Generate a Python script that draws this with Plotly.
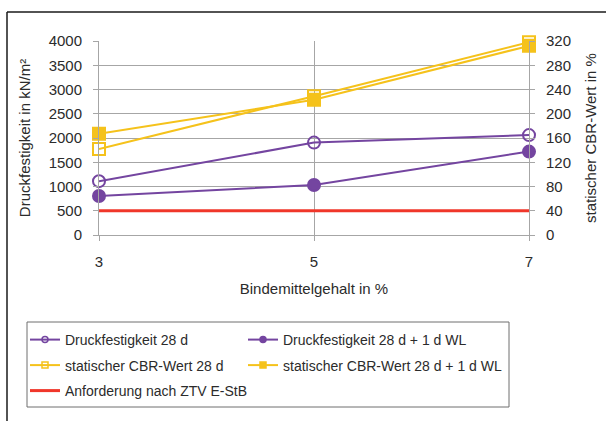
import plotly.graph_objects as go

# Bindemittelgehalt in %
binder = [3, 5, 7]

# Druckfestigkeit in kN/m² (left axis)
druck_28d = [1110, 1905, 2060]
druck_28d_wl = [805, 1030, 1720]

# statischer CBR-Wert in % (right axis)
cbr_28d = [142, 229, 318]
cbr_28d_wl = [167, 223, 312]

# Anforderung nach ZTV E-StB (kN/m²)
anforderung = [500, 500, 500]

left_ticks = list(range(0, 4001, 500))
right_ticks = list(range(0, 321, 40))

PURPLE = "#7445A0"
GOLD = "#F5C21B"
RED = "#F0362A"
GRID = "#A6A6A6"
TEXT = "#2B2B2B"
FONT = "Liberation Sans, Arial, sans-serif"

W, H = 606, 421
L, R, T, B = 99, 77, 41, 186
pw, ph = W - L - R, H - T - B


def px(x):
    return (x - L) / pw


def py(y):
    return (H - B - y) / ph


fig = go.Figure()

# (values, y-axis, colour, symbol, name, legend column)
series = [
    (druck_28d, "y", PURPLE, "circle-open", "Druckfestigkeit 28 d", "legend"),
    (druck_28d_wl, "y", PURPLE, "circle", "Druckfestigkeit 28 d + 1 d WL", "legend2"),
    (cbr_28d, "y2", GOLD, "square-open", "statischer CBR-Wert 28 d", "legend"),
    (cbr_28d_wl, "y2", GOLD, "square", "statischer CBR-Wert 28 d + 1 d WL", "legend2"),
]

fig.add_trace(go.Scatter(
    x=binder, y=anforderung, yaxis="y", mode="lines",
    line=dict(color=RED, width=3), showlegend=False, cliponaxis=False,
))

for vals, ax, col, sym, name, lg in series:
    fig.add_trace(go.Scatter(
        x=binder, y=vals, yaxis=ax, mode="lines+markers",
        line=dict(color=col, width=2),
        marker=dict(symbol=sym, size=12, color=col, line=dict(color=col, width=2)),
        showlegend=False, cliponaxis=False,
    ))

# legend entries with small symbols, two columns
for vals, ax, col, sym, name, lg in series:
    fig.add_trace(go.Scatter(
        x=[None], y=[None], yaxis=ax, mode="lines+markers", name=name,
        legend=lg, legendgroup=name,
        line=dict(color=col, width=2),
        marker=dict(symbol=sym, size=6, color=col, line=dict(color=col, width=1.5)),
    ))
fig.add_trace(go.Scatter(
    x=[None], y=[None], mode="lines", name="Anforderung nach ZTV E-StB",
    legend="legend", legendgroup="anforderung",
    line=dict(color=RED, width=3),
))

axis_common = dict(
    showline=True, linecolor=GRID, linewidth=1,
    ticks="outside", ticklen=5, tickcolor=GRID,
    tickfont=dict(size=15, color=TEXT, family=FONT),
    automargin=False,
)

legend_common = dict(
    orientation="v", xanchor="left", yanchor="top", y=py(324),
    borderwidth=0, bgcolor="rgba(0,0,0,0)",
    font=dict(size=14, color=TEXT, family=FONT),
    tracegroupgap=4.3, itemsizing="trace",
)

fig.update_layout(
    width=W, height=H,
    margin=dict(l=L, r=R, t=T, b=B, pad=0, autoexpand=False),
    paper_bgcolor="white", plot_bgcolor="white",
    font=dict(family=FONT, color=TEXT),
    xaxis=dict(
        range=[3, 7], tickvals=binder, showgrid=True, gridcolor=GRID, gridwidth=1,
        zeroline=False,
        title=dict(text="Bindemittelgehalt in %", font=dict(size=15, color=TEXT), standoff=14),
        ticklabelstandoff=8,
        **axis_common,
    ),
    yaxis=dict(
        range=[0, 4000], tickvals=left_ticks, showgrid=True, gridcolor=GRID, gridwidth=1,
        zeroline=False,
        title=dict(text="Druckfestigkeit in kN/m²", font=dict(size=15, color=TEXT), standoff=14),
        ticklabelstandoff=8,
        **axis_common,
    ),
    yaxis2=dict(
        range=[0, 320], tickvals=right_ticks, overlaying="y", side="right",
        showgrid=False, zeroline=False,
        title=dict(text="statischer CBR-Wert in %", font=dict(size=15, color=TEXT), standoff=15),
        ticklabelstandoff=8,
        **axis_common,
    ),
    legend=dict(x=px(25), **legend_common),
    legend2=dict(x=px(243), **legend_common),
    shapes=[
        # legend frame
        dict(type="rect", xref="paper", yref="paper",
             x0=px(27), x1=px(509), y0=py(322), y1=py(407),
             line=dict(color="#6E6E6E", width=1), layer="below"),
        # outer frame
        dict(type="line", xref="paper", yref="paper",
             x0=px(7), x1=px(7), y0=py(12), y1=py(H + 5),
             line=dict(color="#1A1A1A", width=1.5)),
        dict(type="line", xref="paper", yref="paper",
             x0=px(7), x1=px(W + 5), y0=py(12), y1=py(12),
             line=dict(color="#1A1A1A", width=1.5)),
    ],
)

fig.write_html("out.html")
